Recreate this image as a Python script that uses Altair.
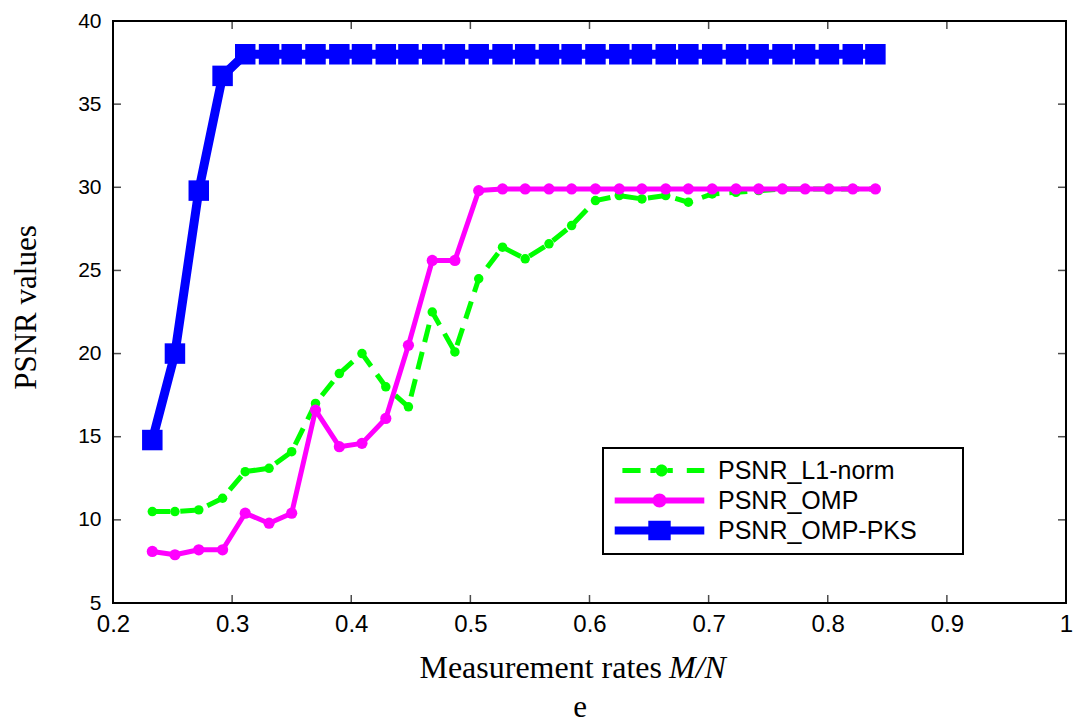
import altair as alt
import pandas as pd

# ---------------- data ----------------
rates = [0.233, 0.252, 0.272, 0.292, 0.311, 0.331, 0.350, 0.370, 0.390, 0.409,
         0.429, 0.448, 0.468, 0.487, 0.507, 0.527, 0.546, 0.566, 0.585, 0.605,
         0.625, 0.644, 0.664, 0.683, 0.703, 0.723, 0.742, 0.762, 0.781, 0.801,
         0.821, 0.840]
psnr_l1 = [10.5, 10.5, 10.6, 11.3, 12.9, 13.1, 14.1, 17.0, 18.8, 20.0,
           18.0, 16.8, 22.5, 20.1, 24.5, 26.4, 25.7, 26.6, 27.7, 29.2,
           29.5, 29.3, 29.5, 29.1, 29.6, 29.7, 29.8, 29.9, 29.9, 29.9,
           29.9, 29.9]
psnr_omp = [8.1, 7.9, 8.2, 8.2, 10.4, 9.8, 10.4, 16.6, 14.4, 14.6,
            16.1, 20.5, 25.6, 25.6, 29.8, 29.9, 29.9, 29.9, 29.9, 29.9,
            29.9, 29.9, 29.9, 29.9, 29.9, 29.9, 29.9, 29.9, 29.9, 29.9,
            29.9, 29.9]
psnr_pks = [14.8, 20.0, 29.8, 36.7, 38.0, 38.0, 38.0, 38.0, 38.0, 38.0,
            38.0, 38.0, 38.0, 38.0, 38.0, 38.0, 38.0, 38.0, 38.0, 38.0,
            38.0, 38.0, 38.0, 38.0, 38.0, 38.0, 38.0, 38.0, 38.0, 38.0,
            38.0, 38.0]
series_names = ["PSNR_L1-norm", "PSNR_OMP", "PSNR_OMP-PKS"]
series_colors = ["#00ff00", "#ff00ff", "#0000ff"]
x_tick_values = [0.2, 0.3, 0.4, 0.5, 0.6, 0.7, 0.8, 0.9, 1.0]
y_tick_values = [5, 10, 15, 20, 25, 30, 35, 40]
x_inner_ticks = [0.3, 0.4, 0.5, 0.6, 0.7, 0.8, 0.9]
y_inner_ticks = [10, 15, 20, 25, 30, 35]

# legend symbols: line + marker drawn as one filled path (unit = 7 px)
legend_paths = [
    "M -5.3,-0.36 L -2.7,-0.36 L -2.7,0.36 L -5.3,0.36 Z "
    "M -1.3,-0.36 L -0.55,-0.36 L -0.55,0.36 L -1.3,0.36 Z "
    "M 1.15,-0.36 L 1.9,-0.36 L 1.9,0.36 L 1.15,0.36 Z "
    "M -0.56,0 A 0.86,0.86 0 1,1 1.16,0 A 0.86,0.86 0 1,1 -0.56,0 Z "
    "M 3.9,-0.36 L 6.4,-0.36 L 6.4,0.36 L 3.9,0.36 Z",
    "M -6.4,-0.43 L -0.9,-0.43 L -0.9,0.43 L -6.4,0.43 Z "
    "M 0.9,-0.43 L 6.4,-0.43 L 6.4,0.43 L 0.9,0.43 Z "
    "M -1,0 A 1,1 0 1,1 1,0 A 1,1 0 1,1 -1,0 Z",
    "M -6.4,-0.57 L -1.6,-0.57 L -1.6,0.57 L -6.4,0.57 Z "
    "M -1.6,-1.4 L 1.6,-1.4 L 1.6,1.4 L -1.6,1.4 Z "
    "M 1.6,-0.57 L 6.4,-0.57 L 6.4,0.57 L 1.6,0.57 Z",
]

W, H = 953, 582

rows = []
for name, vals in zip(series_names, [psnr_l1, psnr_omp, psnr_pks]):
    for r, v in zip(rates, vals):
        rows.append({"rate": r, "psnr": v, "series": name})
df = pd.DataFrame(rows)

x_scale = alt.Scale(domain=[0.2, 1.0], nice=False, zero=False)
y_scale = alt.Scale(domain=[5, 40], nice=False, zero=False)
x_axis = alt.Axis(values=x_tick_values, format="~g", title=None, labelFlush=False,
                  labelPadding=9, labelFontSize=24, labelOverlap=False)
y_axis = alt.Axis(values=y_tick_values, title="PSNR values", labelPadding=12,
                  labelFontSize=21, titleFont="Liberation Serif", titleFontSize=31,
                  titleFontWeight="normal", titleColor="black", titleAngle=270,
                  titleX=-87, titleY=286, titleAlign="center", titleBaseline="middle")

X = alt.X("rate:Q", scale=x_scale, axis=x_axis)
Y = alt.Y("psnr:Q", scale=y_scale, axis=y_axis)

styles = {
    "PSNR_L1-norm": dict(width=5, dash=[18, 10], shape="circle", size=90),
    "PSNR_OMP": dict(width=5, dash=None, shape="circle", size=125),
    "PSNR_OMP-PKS": dict(width=9, dash=None, shape="square", size=420),
}

layers = []
for name, color in zip(series_names, series_colors):
    st = styles[name]
    base = alt.Chart(df).transform_filter(alt.datum.series == name)
    line_kw = dict(color=color, strokeWidth=st["width"], strokeJoin="round")
    if st["dash"]:
        line_kw["strokeDash"] = st["dash"]
    layers.append(base.mark_line(**line_kw).encode(x=X, y=Y))
    layers.append(base.mark_point(filled=True, opacity=1, color=color,
                                  shape=st["shape"], size=st["size"]).encode(x=X, y=Y))

# inward tick marks on all four sides (clipped to the plot area)
xt = pd.DataFrame({"rate": x_inner_ticks})
yt = pd.DataFrame({"psnr": y_inner_ticks})
for yv in [0, H]:
    layers.append(alt.Chart(xt).mark_tick(color="black", thickness=1.5, size=16,
                                          clip=True, orient="vertical")
                  .encode(x=X, y=alt.value(yv)))
for xv in [0, W]:
    layers.append(alt.Chart(yt).mark_tick(color="black", thickness=1.5, size=16,
                                          clip=True, orient="horizontal")
                  .encode(y=Y, x=alt.value(xv)))

# legend (built from the scales, no visible marks); a blank non-space glyph
# widens the box as in the reference
pad = "\u2800" * 2
legend = alt.Legend(title=None, orient="none", legendX=490, legendY=427,
                    symbolSize=196, symbolStrokeWidth=0, symbolOffset=34,
                    labelOffset=46, labelFont="Liberation Sans", labelFontSize=25,
                    labelColor="black", labelLimit=600, rowPadding=4, padding=10,
                    strokeColor="black", fillColor="white", symbolOpacity=1,
                    labelExpr="datum.label + '" + pad + "'")
leg_df = pd.DataFrame({"series": series_names, "rate": [0.5] * 3, "psnr": [20] * 3})
layers.append(
    alt.Chart(leg_df).transform_filter("false").mark_point(filled=True, opacity=1)
    .encode(x=X, y=Y,
            fill=alt.Fill("series:N", scale=alt.Scale(domain=series_names, range=series_colors), legend=legend),
            shape=alt.Shape("series:N", scale=alt.Scale(domain=series_names, range=legend_paths), legend=legend))
)

# x-axis title with italic M/N, and the panel letter
layers.append(alt.Chart(pd.DataFrame({"t": ["Measurement rates"]})).mark_text(
    align="right", baseline="alphabetic", font="Liberation Serif", fontSize=32, color="black")
    .encode(x=alt.value(549), y=alt.value(657), text="t:N"))
layers.append(alt.Chart(pd.DataFrame({"t": ["M/N"]})).mark_text(
    align="left", baseline="alphabetic", font="Liberation Serif", fontSize=32,
    fontStyle="italic", color="black")
    .encode(x=alt.value(556), y=alt.value(657), text="t:N"))
layers.append(alt.Chart(pd.DataFrame({"t": ["e"]})).mark_text(
    align="center", baseline="alphabetic", font="Liberation Serif", fontSize=31, color="black")
    .encode(x=alt.value(467), y=alt.value(696), text="t:N"))

chart = alt.layer(*layers).properties(
    width=W, height=H,
    autosize=alt.AutoSizeParams(type="none"),
    padding={"left": 113, "top": 21, "right": 12, "bottom": 121},
    background="white",
).configure_view(stroke="black", strokeWidth=2).configure_axis(
    domain=False, grid=False, ticks=False, labelFont="Liberation Sans",
    labelColor="black").configure_legend(strokeWidth=2)

chart.save("out.html", embed_options={"renderer": "svg", "actions": False})
